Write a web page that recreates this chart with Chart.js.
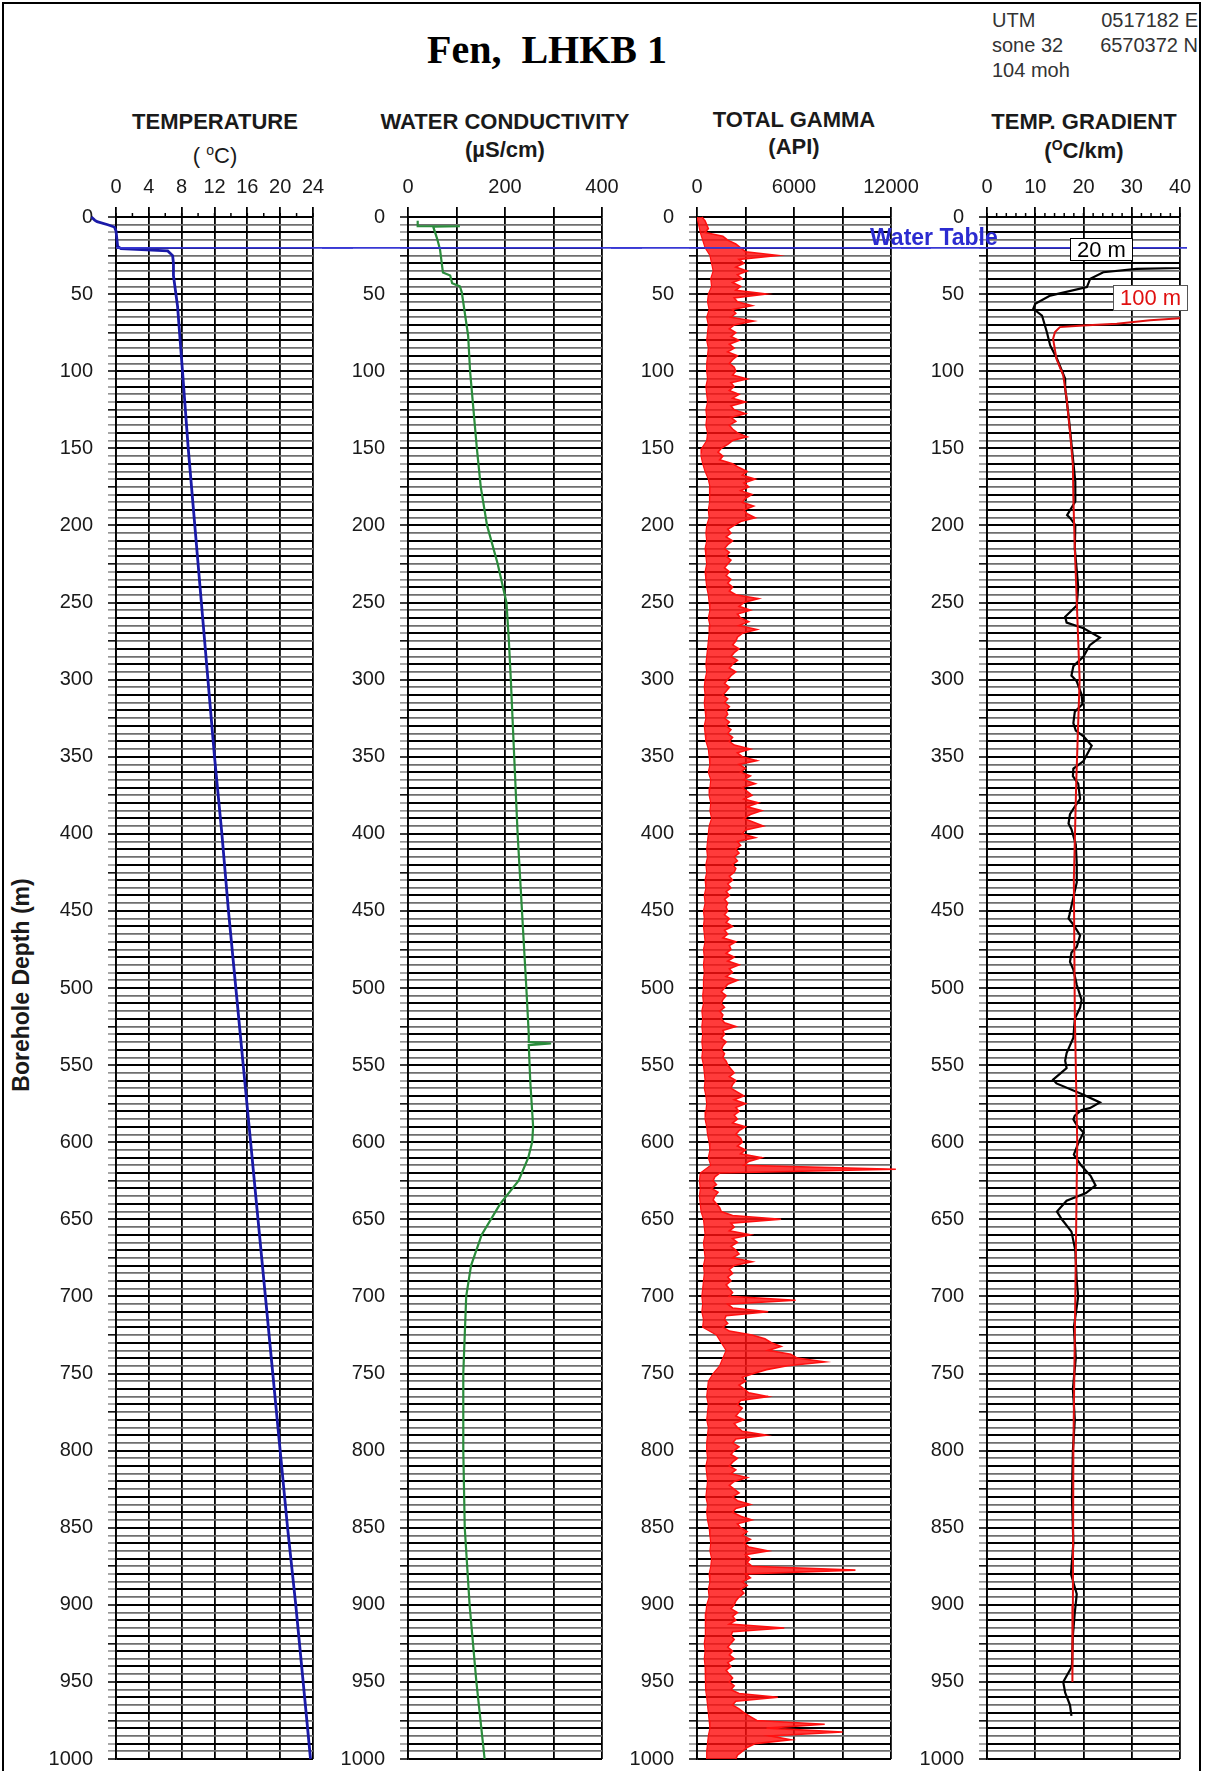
<!DOCTYPE html>
<html>
<head>
<meta charset="utf-8">
<script src="https://cdn.jsdelivr.net/npm/chart.js@4.4.1/dist/chart.umd.min.js"></script>
<style>
  html, body { margin: 0; padding: 0; background: #fff; }
  #page { position: relative; width: 1206px; height: 1771px; overflow: hidden;
          font-family: "Liberation Sans", Arial, sans-serif; color: #111; }
  #frame { position: absolute; left: 2px; top: 2px; width: 1195px; height: 1800px; border: 2px solid #000; }
  canvas { position: absolute; }
  .txt { position: absolute; white-space: nowrap; }
  .head { position: absolute; width: 320px; text-align: center; font-weight: bold; font-size: 22px; line-height: 26px; color: #1a1a1a; }
  .utm { font-size: 20px; line-height: 25px; color: #333; }
  .legbox { position: absolute; box-sizing: border-box; background: #fff; text-align: center; font-size: 22px; }
  sup { font-size: 14px; vertical-align: 8px; line-height: 0; }
</style>
</head>
<body>
<div id="page">
  <div id="frame"></div>

  <div class="txt" style="left:347px;top:30px;width:400px;text-align:center;font-family:'Liberation Serif','Times New Roman',serif;font-weight:bold;font-size:40px;line-height:40px;color:#000">Fen,&nbsp; LHKB 1</div>

  <div class="txt utm" style="left:992px;top:8px">UTM<br>sone 32<br>104 moh</div>
  <div class="txt utm" style="left:1060px;top:8px;width:138px;text-align:right">0517182 E<br>6570372 N</div>

  <div class="head" style="left:55px;top:109px">TEMPERATURE</div>
  <div class="head" style="left:55px;top:143px;font-weight:normal">(&nbsp;<sup>o</sup>C)</div>
  <div class="head" style="left:345px;top:109px">WATER CONDUCTIVITY</div>
  <div class="head" style="left:345px;top:137px">(µS/cm)</div>
  <div class="head" style="left:634px;top:107px">TOTAL GAMMA</div>
  <div class="head" style="left:634px;top:134px">(API)</div>
  <div class="head" style="left:924px;top:109px">TEMP. GRADIENT</div>
  <div class="head" style="left:924px;top:138px">(<sup>O</sup>C/km)</div>

  <div class="txt" style="left:21px;top:985px;transform:translate(-50%,-50%) rotate(-90deg);font-weight:bold;font-size:23px;color:#1a1a1a">Borehole Depth (m)</div>

  <canvas id="c0"></canvas>
  <canvas id="c1"></canvas>
  <canvas id="c2"></canvas>
  <canvas id="c3"></canvas>

  <div class="txt" style="left:870px;top:224px;font-weight:bold;font-size:23px;line-height:26px;color:#2b2bd0">Water Table</div>
  <div class="legbox" style="left:1070px;top:238px;width:63px;height:23px;border:1px solid #000;line-height:21px;color:#000">20 m</div>
  <div class="legbox" style="left:1113px;top:285px;width:75px;height:26px;border:1px solid #555;line-height:24px;color:#e01010">100 m</div>
</div>

<script>
// ---- data ----
const waterTableDepth = 20;

// temperature log (deg C)
const tempDepth = [0, 2, 3, 5, 6.5, 9, 19, 20.5, 22, 25, 30, 38, 58, 100, 150, 200, 250, 300, 350, 400, 450, 500, 550, 600, 650, 700, 750, 800, 850, 900, 950, 1000];
const tempC     = [-3.0, -2.6, -2.3, -1.0, -0.2, 0.0, 0.2, 0.6, 6.3, 6.9, 7.0, 7.0, 7.5, 8.1, 8.8, 9.6, 10.4, 11.2, 12.0, 12.9, 13.7, 14.6, 15.5, 16.4, 17.3, 18.2, 19.1, 20.0, 20.9, 21.9, 22.8, 23.7];

// water conductivity (uS/cm)
const condDepth = [2.5, 6, 6, 6.3, 14, 21, 36, 38, 43, 45, 49, 77, 100, 150, 175, 200, 225, 250, 275, 300, 350, 400, 450, 500, 530, 535, 536, 537, 560, 590, 600, 610, 625, 640, 660, 680, 700, 750, 800, 850, 900, 950, 1000];
const condUS    = [20, 20, 107, 52, 60, 66, 72, 87, 91, 107, 111, 124, 128, 142, 150, 163, 185, 203, 208, 212, 219, 226, 235, 244, 249, 249, 295, 249, 252, 258, 256, 248, 228, 190, 152, 130, 120, 114, 114, 117, 127, 141, 158];

// total gamma (API): upper edge of the trace every 2.5 m, lower edge every 5 m
const gammaMaxStep = 2.5;
const gammaMax = [
  300, 500, 600, 700, 500, 1600, 1900, 2400, 2700, 3000,
  5000, 2600, 2900, 2400, 3100, 2500, 2800, 2200, 2700, 2400,
  4300, 2300, 2500, 3400, 2200, 2400, 2100, 3500, 2300, 2000,
  2400, 2100, 2600, 2000, 2300, 1900, 2500, 2200, 2000, 2300,
  2400, 2200, 3100, 2100, 2300, 2000, 2600, 2200, 3000, 2100,
  2300, 3000, 2100, 2400, 2000, 2200, 2500, 3100, 2200, 1900,
  1500, 1300, 1600, 1400, 2200, 2600, 3100, 2800, 3600, 2900,
  3200, 2700, 3400, 3000, 2800, 3500, 2900, 3100, 3600, 2700,
  2300, 1900, 2100, 1800, 2200, 1900, 1700, 2000, 1800, 2100,
  1900, 1700, 2000, 1800, 2100, 1900, 2200, 2000, 2400, 3800,
  2900, 2600, 3300, 2500, 2700, 3200, 2600, 3700, 2800, 2500,
  2400, 2200, 2600, 2300, 2100, 2500, 2200, 2000, 2400, 2100,
  1900, 1700, 2000, 1800, 1600, 1900, 1700, 2000, 1800, 1900,
  1700, 2000, 1800, 2100, 1900, 2200, 2000, 2300, 3300, 2500,
  2800, 3700, 2600, 3000, 2700, 3300, 2900, 3600, 2800, 3100,
  3400, 2900, 3800, 3100, 4000, 3300, 2900, 3500, 4100, 3000,
  2800, 3600, 2500, 2700, 2400, 2600, 2300, 2500, 2200, 2400,
  2300, 2000, 2200, 1900, 2100, 1800, 2000, 1700, 1900, 1800,
  1900, 1700, 2000, 1800, 2200, 1700, 1900, 1600, 2400, 2000,
  2100, 1800, 2300, 1900, 2600, 2000, 2200, 1800, 2500, 1900,
  1700, 1500, 1800, 1600, 1500, 1700, 1400, 1600, 1500, 1700,
  2400, 1600, 1700, 1500, 1800, 1600, 1500, 1700, 1600, 1800,
  1900, 2100, 2300, 2000, 2400, 2200, 2100, 2500, 2900, 2300,
  3000, 2400, 2600, 2300, 2500, 2200, 3000, 2600, 2400, 2700,
  2800, 2500, 3000, 2700, 4000, 3200, 2900, 12300, 1400, 1100,
  1000, 1200, 900, 1300, 1100, 1000, 1200, 1400, 1500, 2200,
  5200, 2100, 2300, 2000, 3300, 2200, 2500, 2100, 2400, 2600,
  2200, 3400, 2300, 2000, 2200, 1900, 2100, 1800, 2000, 2200,
  2000, 6100, 1900, 2200, 4400, 1800, 1700, 1900, 1600, 2000,
  3400, 4200, 4600, 5200, 4400, 5800, 6200, 7900, 5600, 4300,
  3500, 2800, 3000, 2600, 2900, 3200, 4400, 2700, 2500, 2800,
  2600, 2400, 2900, 2300, 2500, 2800, 4300, 2400, 2200, 2600,
  2300, 2100, 2500, 2200, 2000, 2400, 2100, 3100, 2300, 2000,
  2300, 2600, 2200, 2500, 3300, 2400, 2200, 2700, 3400, 2500,
  2700, 3100, 2800, 3300, 2900, 3200, 4400, 3000, 3300, 3100,
  3400, 9800, 3000, 3300, 2800, 3100, 2700, 2900, 2600, 2400,
  2300, 2100, 2500, 2200, 2400, 2000, 5400, 2200, 2100, 2300,
  2100, 1900, 2200, 2000, 2300, 1900, 2100, 1800, 2000, 2200,
  2000, 2300, 2100, 2600, 5000, 2400, 2200, 2600, 2900, 3300,
  3700, 7900, 4300, 9000, 4500, 5800, 3600, 3100, 2800, 2500,
  2400
];
const gammaMinStep = 5;
const gammaMin = [
  0, 100, 200, 350, 500, 800, 900, 1000, 850, 900,
  700, 650, 750, 600, 700, 650, 600, 700, 650, 600,
  600, 650, 550, 600, 650, 550, 600, 550, 650, 600,
  300, 250, 350, 500, 700, 800, 750, 800, 700, 750,
  600, 550, 600, 500, 550, 600, 500, 550, 600, 700,
  750, 800, 700, 800, 750, 700, 650, 600, 550, 600,
  500, 450, 500, 450, 500, 550, 450, 500, 550, 700,
  750, 800, 700, 850, 800, 750, 850, 800, 900, 750,
  700, 650, 600, 650, 550, 600, 500, 550, 450, 500,
  400, 450, 400, 450, 500, 400, 450, 400, 450, 400,
  400, 350, 400, 300, 350, 300, 350, 300, 350, 300,
  400, 450, 500, 450, 550, 600, 550, 500, 600, 650,
  750, 800, 700, 850, 200, 150, 200, 150, 200, 250,
  400, 450, 500, 400, 450, 500, 400, 450, 400, 350,
  300, 350, 300, 400, 350, 1200, 1500, 1800, 1600, 1400,
  1000, 700, 650, 600, 700, 650, 600, 700, 650, 600,
  600, 650, 550, 600, 650, 600, 550, 650, 600, 650,
  750, 800, 850, 800, 900, 850, 750, 800, 700, 750,
  600, 550, 500, 550, 500, 450, 500, 450, 500, 550,
  500, 550, 600, 650, 700, 750, 800, 700, 650, 600,
  600
];

// temperature gradient over 20 m (deg C/km)
const grad20Depth = [31, 33.7, 35.8, 40, 45.5, 51, 56.3, 59.5, 63.9, 74.6, 83.3, 91.9, 104.9, 111, 128.6, 150, 171.6, 184.5, 193.3, 195.5, 199.8, 215,
  239.6, 251.9, 259.3, 263, 266.7, 272.8, 277.7, 285.1, 291.3, 297.4, 301.1, 309.7, 315.9, 320.8, 328.2, 333.1, 336.8, 342.9, 352.8, 357.7, 362.6, 367.5,
  377.4, 382.3, 387.2, 393.4, 397, 406.9, 419.2, 431.5, 452.4, 454.9, 458.5, 465.9, 473.3, 477, 483.1, 488.1, 497.9, 507.7, 512.7, 520, 532.3, 542.2,
  547.1, 552, 555.7, 559.4, 561.9, 569.2, 574.2, 577.9, 579.1, 582.8, 585.2, 588.9, 593.8,
  600, 608, 615, 622, 628, 633, 638, 645, 650, 658, 670, 690, 700, 720, 740, 760, 780, 800, 830, 860, 880, 893, 905, 920, 940, 950, 957, 965, 972];
const grad20Val = [70, 31, 24.1, 21.4, 20.7, 13.1, 10, 9.6, 11.4, 12.4, 13.1, 14.5, 16.2, 16.2, 16.9, 17.6, 18.3, 18.3, 16.6, 17.3, 18.3, 18.2,
  18.9, 18.6, 16.2, 16.5, 20.0, 23.4, 21.3, 20.0, 17.9, 17.5, 18.6, 19.6, 19.8, 18.2, 17.9, 18.4, 20.0, 21.7, 20.0, 17.9, 17.8, 18.9,
  19.3, 18.2, 17.2, 16.9, 17.5, 18.4, 18.6, 18.6, 17.1, 16.9, 17.8, 19.3, 18.6, 17.5, 17.2, 17.9, 18.6, 19.6, 19.3, 18.2, 17.9, 16.5,
  16.2, 16.5, 15.1, 13.7, 14.4, 20.0, 23.4, 21.3, 19.6, 18.2, 17.9, 18.6, 20.0,
  19.0, 18.0, 19.5, 21.5, 22.5, 20.5, 16.5, 14.5, 15.5, 17.5, 18.3, 18.6, 18.9, 18.0, 18.4, 17.8, 18.2, 17.8, 17.6, 17.9, 17.4, 18.6, 18.2, 17.8, 17.6, 15.8, 16.2, 17.2, 17.5];

// temperature gradient over 100 m (deg C/km)
const grad100Depth = [64.5, 67, 69.3, 70.4, 71.4, 74.6, 79, 92, 102.7, 117.8, 139.4, 161, 182.5, 215, 300, 366, 430, 517, 600, 700, 800, 900, 950];
const grad100Val   = [45, 33.8, 26.9, 19.9, 15.1, 14.1, 13.7, 14.4, 15.8, 16.5, 17.2, 17.8, 17.9, 18.2, 19.2, 18.5, 18.0, 18.2, 18.7, 18.3, 17.9, 17.8, 17.7];

// ---- helpers ----
const pts = (ds, vs) => ds.map((d, i) => ({ x: vs[i], y: d }));
const stepPts = (vs, step) => vs.map((v, i) => ({ x: v, y: i * step }));
const FONT = "'Liberation Sans', Arial, sans-serif";
const TOP = 165, AXIS_H = 52, Y_W = 86, PAD_R = 40;
const PLOT_BOTTOM = 1759;
const Y_TICK_PAD = 15, Y_LABEL_HALF = 12;   // chart.js keeps label half height + tick padding below the area

const trackExtras = {
  id: 'trackExtras',
  afterDraw(chart, args, opts) {
    const { ctx, chartArea, scales } = chart;
    ctx.save();
    if (opts.minorStep) {
      ctx.strokeStyle = '#000';
      ctx.lineWidth = 1.5;
      for (let v = scales.x.min; v <= scales.x.max; v += opts.minorStep) {
        const px = scales.x.getPixelForValue(v);
        ctx.beginPath();
        ctx.moveTo(px, chartArea.top);
        ctx.lineTo(px, chartArea.top - 4);
        ctx.stroke();
      }
    }
    const wy = scales.y.getPixelForValue(waterTableDepth);
    const x0 = opts.first ? chartArea.left : 0;
    const x1 = opts.last ? chartArea.right + 7 : chart.width;
    ctx.strokeStyle = '#3838d4';
    ctx.lineWidth = 1.6;
    ctx.beginPath();
    ctx.moveTo(x0, wy);
    ctx.lineTo(x1, wy);
    ctx.stroke();
    ctx.restore();
  }
};

function makeTrack(id, t) {
  const canvas = document.getElementById(id);
  const plotW = t.right - t.left;
  canvas.width = Y_W + plotW + PAD_R;
  canvas.height = PLOT_BOTTOM - TOP + Y_LABEL_HALF + Y_TICK_PAD;
  canvas.style.left = (t.left - Y_W) + 'px';
  canvas.style.top = TOP + 'px';

  return new Chart(canvas, {
    type: 'line',
    data: { datasets: t.datasets },
    options: {
      indexAxis: 'y',
      responsive: false,
      animation: false,
      devicePixelRatio: 1,
      layout: { padding: { left: 0, top: 0, right: PAD_R, bottom: 0 } },
      plugins: {
        legend: { display: false },
        tooltip: { enabled: false },
        trackExtras: { minorStep: t.minorStep, first: t.first, last: t.last }
      },
      elements: { point: { radius: 0 }, line: { tension: 0 } },
      scales: {
        x: {
          type: 'linear',
          position: 'top',
          min: t.min,
          max: t.max,
          afterFit: (s) => { s.height = AXIS_H; },
          ticks: {
            stepSize: t.step,
            autoSkip: false,
            maxRotation: 0,
            padding: 8,
            color: '#1a1a1a',
            font: { family: FONT, size: 20 },
            callback: t.xLabel
          },
          grid: { color: '#000', lineWidth: 1.8, tickLength: 10, tickColor: '#000' },
          border: { display: true, color: '#000', width: 1.8 }
        },
        y: {
          type: 'linear',
          reverse: true,
          min: 0,
          max: 1000,
          afterFit: (s) => { s.width = Y_W; },
          ticks: {
            stepSize: 5,
            autoSkip: false,
            padding: Y_TICK_PAD,
            color: '#1a1a1a',
            font: { family: FONT, size: 20 },
            callback: (v) => (v % 50 === 0 ? v : '')
          },
          grid: {
            color: (c) => (c.tick.value % 10 === 0 ? '#000' : '#6e6e6e'),
            lineWidth: (c) => (c.tick.value % 10 === 0 ? 2 : 1.7),
            tickLength: 8,
            tickColor: (c) => (c.tick.value % 25 === 0 ? '#000' : '#8a8a8a'),
            tickWidth: 1.5
          },
          border: { display: true, color: '#000', width: 1.8 }
        }
      }
    },
    plugins: [trackExtras]
  });
}

makeTrack('c0', {
  left: 116, right: 313, min: 0, max: 24, step: 4, minorStep: 2, first: true,
  xLabel: (v) => v,
  datasets: [{ data: pts(tempDepth, tempC), borderColor: '#1a1aa8', borderWidth: 2.8, clip: false }]
});

makeTrack('c1', {
  left: 408, right: 602, min: 0, max: 400, step: 100,
  xLabel: (v) => (v % 200 === 0 ? v : ''),
  datasets: [{ data: pts(condDepth, condUS), borderColor: '#2b8c3c', borderWidth: 2.2 }]
});

makeTrack('c2', {
  left: 697, right: 891, min: 0, max: 12000, step: 3000,
  xLabel: (v) => (v % 6000 === 0 ? v : ''),
  datasets: [
    { data: stepPts(gammaMax, gammaMaxStep), borderColor: '#ff1010', backgroundColor: 'rgba(255,16,16,0.82)',
      borderWidth: 1.6, fill: '+1', clip: false },
    { data: stepPts(gammaMin, gammaMinStep), borderColor: '#ff1010', borderWidth: 1.2, fill: false }
  ]
});

makeTrack('c3', {
  left: 987, right: 1180, min: 0, max: 40, step: 10, minorStep: 2, last: true,
  xLabel: (v) => v,
  datasets: [
    { data: pts(grad100Depth, grad100Val), borderColor: '#e01010', borderWidth: 2 },
    { data: pts(grad20Depth, grad20Val), borderColor: '#000', borderWidth: 2.2 }
  ]
});
</script>
</body>
</html>
